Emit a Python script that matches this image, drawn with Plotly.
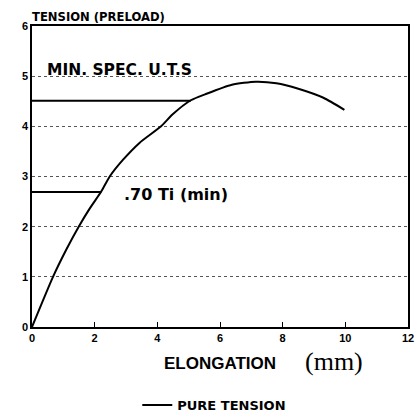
import plotly.graph_objects as go

# Curve data (elongation mm, tension)
elong = [0, 0.67, 1.1, 1.49, 1.85, 2.21, 2.48, 2.9, 3.43, 4.12, 4.49, 5.07, 5.57, 6.38, 7.14, 7.8, 8.5, 9.3, 9.97]
tension = [0, 1.0, 1.55, 2.0, 2.37, 2.7, 3.0, 3.33, 3.67, 4.0, 4.24, 4.52, 4.65, 4.83, 4.89, 4.86, 4.75, 4.57, 4.33]

uts_x = [0, 5.07]
uts_y = [4.51, 4.51]
ti_x = [0, 2.21]
ti_y = [2.69, 2.69]

x_ticks = [0, 2, 4, 6, 8, 10, 12]
y_ticks = [0, 1, 2, 3, 4, 5, 6]

fig = go.Figure()
fig.add_trace(go.Scatter(x=elong, y=tension, mode="lines", name="PURE TENSION",
                         line=dict(color="black", width=2, shape="spline", smoothing=0.6)))
fig.add_trace(go.Scatter(x=uts_x, y=uts_y, mode="lines", showlegend=False,
                         line=dict(color="black", width=2)))
fig.add_trace(go.Scatter(x=ti_x, y=ti_y, mode="lines", showlegend=False,
                         line=dict(color="black", width=2)))

lib = "Liberation Sans, Arial, sans-serif"
dvb = "DejaVu Sans, sans-serif"
serif = "Liberation Serif, Times New Roman, serif"

fig.update_layout(
    width=420, height=412,
    margin=dict(l=32, r=12, t=26, b=85, autoexpand=False),
    paper_bgcolor="white", plot_bgcolor="white",
    font=dict(family=lib, color="black", size=11),
    showlegend=True,
    legend=dict(orientation="h", x=0.28, xanchor="left", y=-0.259, yanchor="middle",
                font=dict(size=13, family=dvb, weight="bold"), bgcolor="rgba(0,0,0,0)"),
    xaxis=dict(range=[0, 12], tickvals=x_ticks, ticktext=[f"<b>{v}</b>" for v in x_ticks],
               showgrid=False, zeroline=False, showline=True, linecolor="black", linewidth=1.5,
               mirror=True, ticks="inside", ticklen=5, tickcolor="black",
               tickfont=dict(size=11)),
    yaxis=dict(range=[0, 6], tickvals=y_ticks, ticktext=[f"<b>{v}</b>" for v in y_ticks],
               showgrid=True, gridcolor="#555", griddash="dot", gridwidth=1,
               zeroline=False, showline=True, linecolor="black", linewidth=1.5,
               mirror=True, ticks="", tickfont=dict(size=11)),
    annotations=[
        dict(text="<b>TENSION (PRELOAD)</b>", xref="paper", yref="paper", x=-0.004, y=1.030,
             xanchor="left", yanchor="middle", showarrow=False,
             font=dict(size=11.6, family=dvb)),
        dict(text="<b>MIN. SPEC. U.T.S</b>", xref="x", yref="y", x=0.42, y=5.12,
             xanchor="left", yanchor="middle", showarrow=False,
             font=dict(size=15.5, family=dvb)),
        dict(text="<b>.70 Ti (min)</b>", xref="x", yref="y", x=2.88, y=2.64,
             xanchor="left", yanchor="middle", showarrow=False,
             font=dict(size=16, family=dvb)),
        dict(text="<b>ELONGATION</b>", xref="paper", yref="paper", x=0.345, y=-0.120,
             xanchor="left", yanchor="middle", showarrow=False,
             font=dict(size=17, family=lib)),
        dict(text="(mm)", xref="paper", yref="paper", x=0.722, y=-0.116,
             xanchor="left", yanchor="middle", showarrow=False,
             font=dict(size=26, family=serif)),
    ],
)

fig.write_html("out.html")
